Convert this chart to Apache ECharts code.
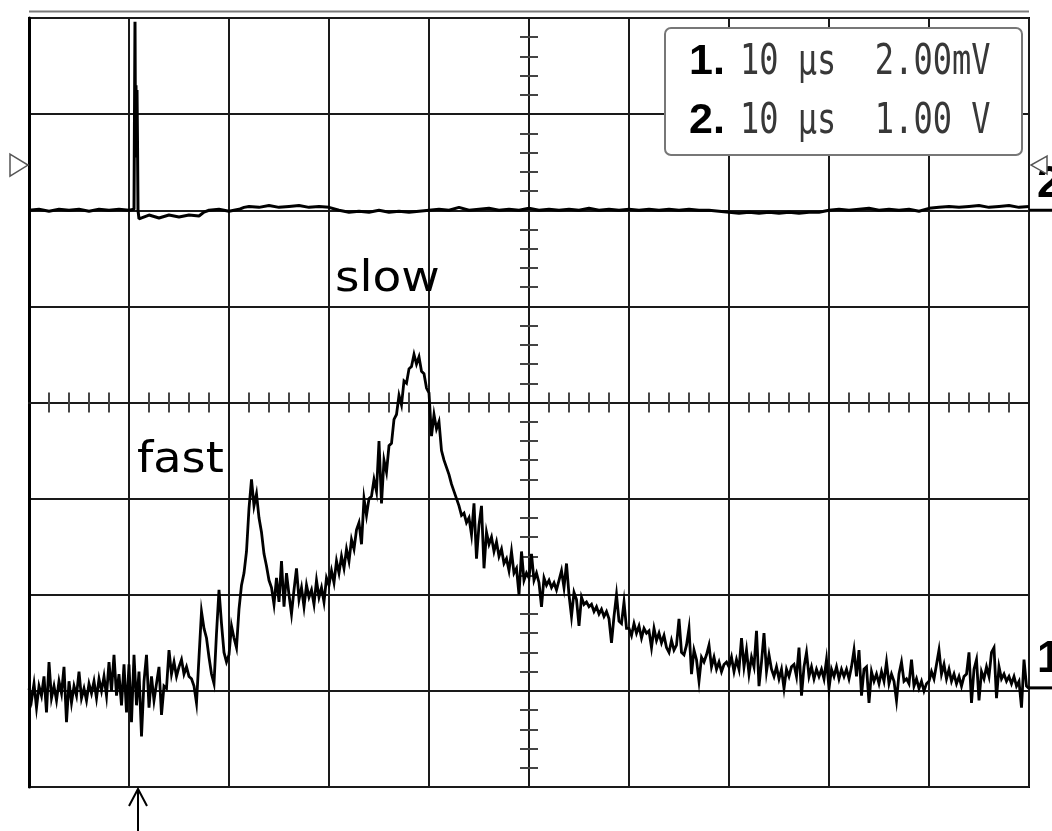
<!DOCTYPE html>
<html>
<head>
<meta charset="utf-8">
<title>fast / slow</title>
<script src="https://cdn.jsdelivr.net/npm/echarts@6/dist/echarts.min.js"></script>
<style>
  html, body { margin: 0; padding: 0; background: #fff; }
  #chart { width: 1052px; height: 831px; }
</style>
</head>
<body>
<div id="chart"></div>
<script>
  // scope screen: 10 div x 10 us, 8 div vertical, time counted from screen centre
  const timeMin = -50
  const timeMax = 50
  const timePerDiv = 10
  const divMin = -4
  const divMax = 4

  const ch1Scale = 2.00 // mV / div
  const ch2Scale = 1.00 // V / div
  const ch1Ground = -3 // div
  const ch2Ground = 2 // div
  const triggerTime = -39.1 // us
  const triggerLevel = 2.47 // div

  const channelLabels = ['10 μs  2.00mV', '10 μs  1.00 V']

  // channel 1, one sample every 0.25 us from the left edge (mV above ground)
  const ch1Step = 0.25
  const ch1MilliVolts = [
    0.05, -0.2, 0.15, -0.35, 0.1, -0.1, 0.3, -0.45, 0.6, -0.15, 0.1, -0.2, 0.2, -0.05, 0.5, -0.65, 0.2, -0.25, 0.1, -0.1,
    0.4, -0.15, 0.05, -0.2, 0.15, -0.05, 0.2, -0.15, 0.25, 0.0, 0.3, -0.1, 0.6, 0.0, 0.75, -0.1, 0.35, -0.3, 0.55, -0.45,
    0.55, -0.65, 0.75, -0.3, 0.4, -0.95, 0.2, 0.75, -0.35, 0.3, -0.2, 0.15, 0.5, -0.5, 0.1, 0.05, 0.85, 0.35, 0.6, 0.3,
    0.5, 0.65, 0.35, 0.5, 0.3, 0.25, 0.1, -0.25, 0.7, 1.65, 1.3, 1.1, 0.7, 0.35, 0.15, 1.2, 2.1, 1.4, 0.8, 0.6,
    0.75, 1.35, 1.1, 0.9, 1.7, 2.2, 2.45, 2.9, 3.8, 4.4, 3.85, 4.1, 3.6, 3.3, 2.85, 2.6, 2.3, 2.15, 1.8, 2.35,
    1.85, 2.7, 1.75, 2.45, 2.0, 1.6, 2.1, 2.55, 1.9, 2.15, 1.75, 2.2, 1.95, 2.1, 1.8, 2.3, 1.95, 2.15, 1.85, 2.35,
    2.2, 2.5, 2.25, 2.7, 2.45, 2.8, 2.55, 2.95, 2.7, 3.15, 2.95, 3.35, 3.5, 3.05, 4.0, 3.65, 4.0, 4.05, 4.4, 4.15,
    5.2, 3.9, 4.8, 4.55, 5.1, 5.15, 5.65, 5.75, 6.15, 5.95, 6.45, 6.4, 6.7, 6.75, 7.0, 6.8, 6.95, 6.65, 6.6, 6.3,
    6.2, 5.3, 5.75, 5.45, 5.6, 5.0, 4.8, 4.65, 4.5, 4.3, 4.15, 4.0, 3.85, 3.65, 3.7, 3.5, 3.6, 3.25, 3.9, 2.75,
    3.45, 3.85, 2.55, 3.3, 3.05, 3.2, 2.9, 3.1, 2.8, 2.95, 2.65, 2.75, 2.5, 2.9, 2.45, 2.55, 2.0, 2.9, 2.3, 2.45,
    2.35, 2.85, 2.3, 2.45, 2.25, 1.75, 2.35, 2.2, 2.3, 2.15, 2.25, 2.1, 2.3, 2.5, 2.15, 2.65, 2.0, 1.55, 2.05, 1.9,
    1.35, 1.95, 1.8, 1.85, 1.75, 1.8, 1.65, 1.75, 1.6, 1.7, 1.55, 1.65, 1.5, 1.0, 1.55, 2.0, 1.45, 1.4, 1.85, 1.3,
    1.3, 1.15, 1.4, 1.2, 1.35, 1.1, 1.3, 1.2, 1.25, 0.9, 1.3, 1.05, 1.2, 1.0, 1.15, 0.9, 0.8, 1.05, 0.85, 0.95,
    1.5, 0.8, 0.75, 0.95, 1.3, 0.35, 0.85, 0.65, 0.2, 0.7, 0.6, 0.75, 0.95, 0.5, 0.7, 0.45, 0.6, 0.4, 0.55, 0.6,
    0.5, 0.7, 0.4, 0.65, 0.45, 1.1, 0.5, 0.85, 0.35, 0.7, 0.5, 1.25, 0.1, 0.6, 1.2, 0.4, 0.75, 0.45, 0.3, 0.5,
    0.25, 0.45, 0.05, 0.45, 0.3, 0.5, 0.55, 0.3, 0.9, -0.1, 0.5, 0.8, 0.3, 0.5, 0.25, 0.45, 0.3, 0.45, 0.25, 0.65,
    0.05, 0.45, 0.3, 0.5, 0.25, 0.45, 0.3, 0.45, 0.25, 0.5, 0.85, 0.3, 0.85, -0.1, 0.45, 0.5, -0.25, 0.4, 0.2, 0.35,
    0.15, 0.4, 0.2, 0.6, 0.15, 0.35, 0.2, -0.2, 0.35, 0.6, 0.2, 0.25, 0.15, 0.65, 0.1, 0.25, 0.05, 0.2, 0.0, 0.15,
    0.2, 0.4, 0.25, 0.55, 0.85, 0.35, 0.55, 0.25, 0.45, 0.2, 0.35, 0.15, 0.3, 0.1, 0.3, 0.35, 0.8, -0.25, 0.45, 0.65,
    -0.2, 0.4, 0.25, 0.5, 0.3, 0.8, 0.9, -0.15, 0.5, 0.25, 0.35, 0.2, 0.3, 0.15, 0.3, 0.1, 0.2, -0.35, 0.65, 0.1,
    0.05
  ]

  // channel 2, [time us, volts above ground]
  const ch2Samples = [
    [-50, 0.0], [-49, 0.01], [-48, -0.01], [-47, 0.01], [-46, 0.0], [-45, 0.01], [-44, -0.01], [-43, 0.01],
    [-42, 0.0], [-41, 0.01], [-40, 0.0], [-39.5, 0.01], [-39.4, 1.96], [-39.35, 0.6], [-39.3, 1.3], [-39.25, 0.55],
    [-39.2, 1.25], [-39.15, 0.7], [-39.1, 0.0], [-39, -0.09], [-38, -0.05], [-37, -0.08], [-36, -0.05], [-35, -0.07],
    [-34, -0.05], [-33, -0.06], [-32.5, -0.02], [-32, 0.0], [-31, 0.01], [-30, -0.01], [-29, 0.01], [-28.5, 0.03],
    [-28, 0.04], [-27, 0.03], [-26, 0.05], [-25, 0.03], [-24, 0.04], [-23, 0.05], [-22, 0.03], [-21, 0.04],
    [-20, 0.03], [-19, 0.0], [-18, -0.02], [-17, -0.01], [-16, -0.02], [-15, 0.0], [-14, -0.02], [-13, -0.01],
    [-12, -0.02], [-11, -0.01], [-10, 0.0], [-9, 0.01], [-8, 0.0], [-7, 0.03], [-6, 0.0], [-5, 0.01],
    [-4, 0.02], [-3, 0.0], [-2, 0.01], [-1, 0.0], [0, 0.02], [1, 0.0], [2, 0.01], [3, 0.0],
    [4, 0.01], [5, 0.0], [6, 0.02], [7, 0.0], [8, 0.01], [9, 0.0], [10, 0.01], [11, 0.0],
    [12, 0.01], [13, 0.0], [14, 0.01], [15, 0.0], [16, 0.01], [17, 0.0], [18, 0.0], [19, -0.01],
    [20, -0.02], [21, -0.03], [22, -0.02], [23, -0.03], [24, -0.02], [25, -0.03], [26, -0.02], [27, -0.03],
    [28, -0.02], [29, -0.02], [30, 0.0], [31, 0.01], [32, 0.0], [33, 0.01], [34, 0.02], [35, 0.0],
    [36, 0.01], [37, 0.0], [38, 0.01], [39, -0.01], [40, 0.02], [41, 0.03], [42, 0.04], [43, 0.03],
    [44, 0.04], [45, 0.05], [46, 0.03], [47, 0.04], [48, 0.05], [49, 0.03], [50, 0.04]
  ]

  const gridLine = { color: '#1a1a1a', width: 2 }
  const tickLine = { color: '#444', width: 2 }

  function centreAxis(inside) {
    return {
      type: 'value',
      min: timeMin,
      max: timeMax,
      interval: timePerDiv,
      position: 'bottom',
      axisLine: { show: true, onZero: true, onZeroAxisIndex: 0, lineStyle: gridLine },
      axisTick: { show: false, inside: inside },
      minorTick: { show: true, splitNumber: 5, length: 10, lineStyle: tickLine },
      axisLabel: { show: false },
      splitLine: { show: false }
    }
  }

  function centreYAxis(inside) {
    return {
      type: 'value',
      min: divMin,
      max: divMax,
      interval: 1,
      position: 'left',
      axisLine: { show: true, onZero: true, onZeroAxisIndex: 0, lineStyle: gridLine },
      axisTick: { show: false, inside: inside },
      minorTick: { show: true, splitNumber: 5, length: 9, lineStyle: tickLine },
      axisLabel: { show: false },
      splitLine: { show: false }
    }
  }

  const chart = echarts.init(document.getElementById('chart'))

  chart.setOption({
    animation: false,
    backgroundColor: '#fff',
    grid: {
      left: 29,
      right: 23,
      top: 18,
      bottom: 44,
      show: true,
      borderColor: '#000',
      borderWidth: 2
    },
    xAxis: [
      {
        type: 'value',
        min: timeMin,
        max: timeMax,
        interval: timePerDiv,
        axisLine: { show: false, onZero: false },
        axisTick: { show: false },
        axisLabel: { show: false },
        splitLine: { show: true, lineStyle: gridLine }
      },
      centreAxis(false),
      centreAxis(true)
    ],
    yAxis: [
      {
        type: 'value',
        min: divMin,
        max: divMax,
        interval: 1,
        axisLine: { show: true, onZero: false, lineStyle: { color: '#000', width: 3 } },
        axisTick: { show: false },
        axisLabel: { show: false },
        splitLine: { show: true, lineStyle: gridLine }
      },
      centreYAxis(false),
      centreYAxis(true)
    ],
    series: [
      {
        name: 'channel 2',
        type: 'line',
        showSymbol: false,
        sampling: false,
        z: 5,
        lineStyle: { color: '#000', width: 3 },
        data: ch2Samples.map(([t, v]) => [t, v / ch2Scale + ch2Ground])
      },
      {
        name: 'channel 1',
        type: 'line',
        showSymbol: false,
        sampling: false,
        z: 6,
        lineStyle: { color: '#000', width: 2.8, join: 'miter' },
        data: ch1MilliVolts.map((v, i) => [timeMin + i * ch1Step, v / ch1Scale + ch1Ground])
      }
    ]
  })

  const finder = { xAxisIndex: 0, yAxisIndex: 0 }
  const g1 = chart.convertToPixel(finder, [timeMax, ch1Ground])
  const g2 = chart.convertToPixel(finder, [timeMax, ch2Ground])
  const trig = chart.convertToPixel(finder, [triggerTime, divMin])
  const level = chart.convertToPixel(finder, [timeMin, triggerLevel])
  const topLeft = chart.convertToPixel(finder, [timeMin, divMax])
  const topRight = chart.convertToPixel(finder, [timeMax, divMax])

  function label(text, x, y, font, fill, sx, sy) {
    return {
      type: 'text',
      x: x,
      y: y,
      scaleX: sx || 1,
      scaleY: sy || 1,
      z: 100,
      style: {
        text: text,
        x: 0,
        y: 0,
        font: font,
        fill: fill,
        align: 'left',
        textAlign: 'left',
        verticalAlign: 'middle',
        textVerticalAlign: 'middle'
      }
    }
  }

  const mono = '32px "DejaVu Sans Mono"'
  const boldDigit = 'bold 43px "Liberation Sans"'

  chart.setOption({
    graphic: [
      {
        type: 'line',
        z: 100,
        shape: { x1: topLeft[0], y1: topLeft[1] - 6.5, x2: topRight[0], y2: topRight[1] - 6.5 },
        style: { stroke: '#7a7a7a', lineWidth: 2 }
      },
      {
        type: 'rect',
        z: 100,
        shape: { x: 665, y: 28, width: 357, height: 127, r: 6 },
        style: { fill: '#fff', stroke: '#777', lineWidth: 2 }
      },
      label('1.', 689, 62.5, boldDigit, '#000'),
      label(channelLabels[0], 740, 62.5, mono, '#383838', 1, 1.33),
      label('2.', 689, 121.5, boldDigit, '#000'),
      label(channelLabels[1], 740, 121.5, mono, '#383838', 1, 1.33),
      label('slow', 335, 280, '42px "DejaVu Sans"', '#000', 1.12, 1),
      label('fast', 137, 461, '42px "DejaVu Sans"', '#000', 1.1, 1),
      // ground markers on the right edge
      {
        type: 'line',
        z: 100,
        shape: { x1: g1[0], y1: g1[1] - 3, x2: 1052, y2: g1[1] - 3 },
        style: { stroke: '#000', lineWidth: 3 }
      },
      label('1', 1037, g1[1] - 31, 'bold 44px "Liberation Sans"', '#000'),
      {
        type: 'line',
        z: 100,
        shape: { x1: g2[0], y1: g2[1], x2: 1052, y2: g2[1] },
        style: { stroke: '#000', lineWidth: 3 }
      },
      label('2', 1037, g2[1] - 25, 'bold 44px "Liberation Sans"', '#000'),
      // trigger level markers
      {
        type: 'polygon',
        z: 100,
        shape: { points: [[10, level[1] - 11], [28, level[1]], [10, level[1] + 11]] },
        style: { fill: '#fff', stroke: '#555', lineWidth: 1.5 }
      },
      {
        type: 'polygon',
        z: 100,
        shape: { points: [[1047, level[1] - 9], [1031, level[1]], [1047, level[1] + 9]] },
        style: { fill: '#fff', stroke: '#555', lineWidth: 1.5 }
      },
      // trigger position arrow
      {
        type: 'polyline',
        z: 100,
        shape: { points: [[trig[0] - 9, trig[1] + 19], [trig[0], trig[1] + 2], [trig[0] + 9, trig[1] + 19]] },
        style: { stroke: '#000', lineWidth: 2, fill: null }
      },
      {
        type: 'line',
        z: 100,
        shape: { x1: trig[0], y1: trig[1] + 2, x2: trig[0], y2: 831 },
        style: { stroke: '#000', lineWidth: 2 }
      }
    ]
  })
</script>
</body>
</html>
